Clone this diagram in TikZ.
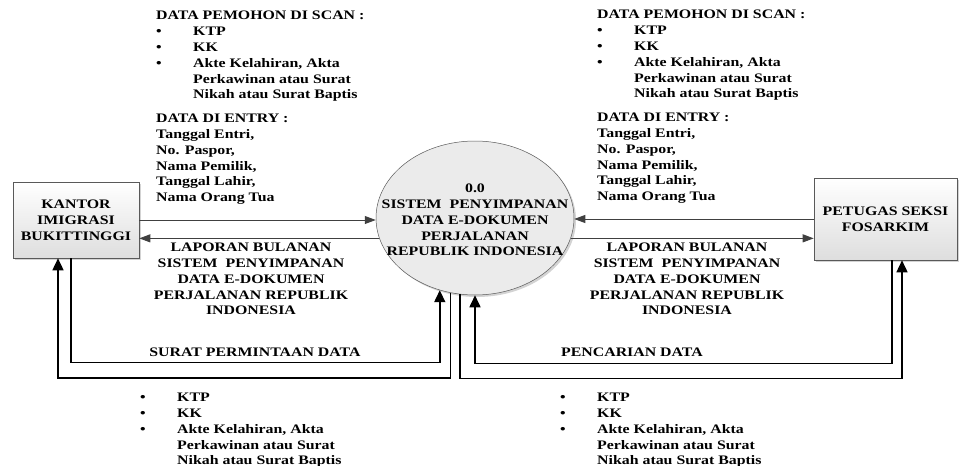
\documentclass[tikz,border=0pt]{standalone}
\usepackage{fontspec}
\setmainfont{Liberation Serif}[FakeStretch=1.22]
\usetikzlibrary{
    arrows.meta,
    shapes.geometric,
    shadows,
    positioning
}
\newcommand{\dfdfont}{\fontsize{13}{15.8}\selectfont\bfseries}
\newcommand{\bul}{\makebox[37pt][l]{\textbullet}}
\tikzset{
    entity/.style={draw=black!65, line width=0.6pt, top color=white, bottom color=black!13,
        drop shadow={shadow xshift=2pt, shadow yshift=-2pt, opacity=0.35},
        align=center, inner sep=0pt, font=\dfdfont},
    proc/.style={ellipse, draw=black!65, line width=0.5pt, fill=black!8,
        drop shadow={shadow xshift=2pt, shadow yshift=-2pt, opacity=0.35},
        minimum width=198pt, minimum height=154pt, inner sep=0pt},
    flow/.style={draw=black!75, line width=0.9pt, -{Triangle[length=11pt, width=8pt]}},
    rflow/.style={black, line width=1.6pt, -{Triangle[length=12pt, width=11pt]}},
    lbl/.style={align=center, inner sep=0pt, font=\dfdfont},
    note/.style={align=left, anchor=north west, inner sep=0pt, font=\dfdfont}
}

\begin{document}
\begin{tikzpicture}[x=1pt, y=-1pt]
    \useasboundingbox (0, 0) rectangle (959, 466);
    \node[entity, minimum width=126pt, minimum height=76pt] (kantor) at (76, 220) {KANTOR\\IMIGRASI\\BUKITTINGGI};
    \node[entity, minimum width=143pt, minimum height=82pt] (petugas) at (885.5, 219) {PETUGAS SEKSI\\FOSARKIM};
    \node[proc] (sistem) at (475, 218) {};
    \node[lbl] (sistemtxt) at (475, 220) {0.0\\SISTEM\ \ PENYIMPANAN\\DATA E-DOKUMEN\\PERJALANAN\\REPUBLIK INDONESIA};

    \draw
    (kantor.east) edge[flow] (kantor.east -| sistem.west)
    (sistem.192) edge[flow] (sistem.192 -| kantor.east)
    (petugas.west) edge[flow] (petugas.west -| sistem.east)
    (sistem.-12) edge[flow] (sistem.-12 -| petugas.west);

    \draw[rflow] ([xshift=-5pt]kantor.south) -- ++(0, 104) -| (sistem.244);
    \draw[rflow] (sistem.252) -- ++(0, 85) -| ([xshift=-18pt]kantor.south);
    \draw[rflow] ([xshift=6.5pt]petugas.south) -- ++(0, 103) -| (sistem.south);
    \draw[rflow] (sistem.259.6) -- ++(0, 84) -| ([xshift=16.5pt]petugas.south);

    \node[lbl] (lapkiri) at (251, 279) {LAPORAN BULANAN\\SISTEM\ \ PENYIMPANAN\\DATA E-DOKUMEN\\PERJALANAN REPUBLIK\\INDONESIA};
    \node[lbl] (lapkanan) at (687, 279) {LAPORAN BULANAN\\SISTEM\ \ PENYIMPANAN\\DATA E-DOKUMEN\\PERJALANAN REPUBLIK\\INDONESIA};
    \node[lbl] (surat) at (255, 352) {SURAT PERMINTAAN DATA};
    \node[lbl] (cari) at (632, 352) {PENCARIAN DATA};

    \node[note] (scankiri) at (156, 11) {DATA PEMOHON DI SCAN :\\
        \bul KTP\\
        \bul KK\\
        \bul Akte Kelahiran, Akta\\
        \hspace*{37pt}Perkawinan atau Surat\\
        \hspace*{37pt}Nikah atau Surat Baptis\\[8pt]
        DATA DI ENTRY :\\
        Tanggal Entri,\\
        No. Paspor,\\
        Nama Pemilik,\\
        Tanggal Lahir,\\
        Nama Orang Tua};
    \node[note] (scankanan) at (597, 10) {DATA PEMOHON DI SCAN :\\
        \bul KTP\\
        \bul KK\\
        \bul Akte Kelahiran, Akta\\
        \hspace*{37pt}Perkawinan atau Surat\\
        \hspace*{37pt}Nikah atau Surat Baptis\\[8pt]
        DATA DI ENTRY :\\
        Tanggal Entri,\\
        No. Paspor,\\
        Nama Pemilik,\\
        Tanggal Lahir,\\
        Nama Orang Tua};
    \node[note] (dokkiri) at (140, 393) {\bul KTP\\
        \bul KK\\
        \bul Akte Kelahiran, Akta\\
        \hspace*{37pt}Perkawinan atau Surat\\
        \hspace*{37pt}Nikah atau Surat Baptis};
    \node[note] (dokkanan) at (560, 393) {\bul KTP\\
        \bul KK\\
        \bul Akte Kelahiran, Akta\\
        \hspace*{37pt}Perkawinan atau Surat\\
        \hspace*{37pt}Nikah atau Surat Baptis};
\end{tikzpicture}
\end{document}
